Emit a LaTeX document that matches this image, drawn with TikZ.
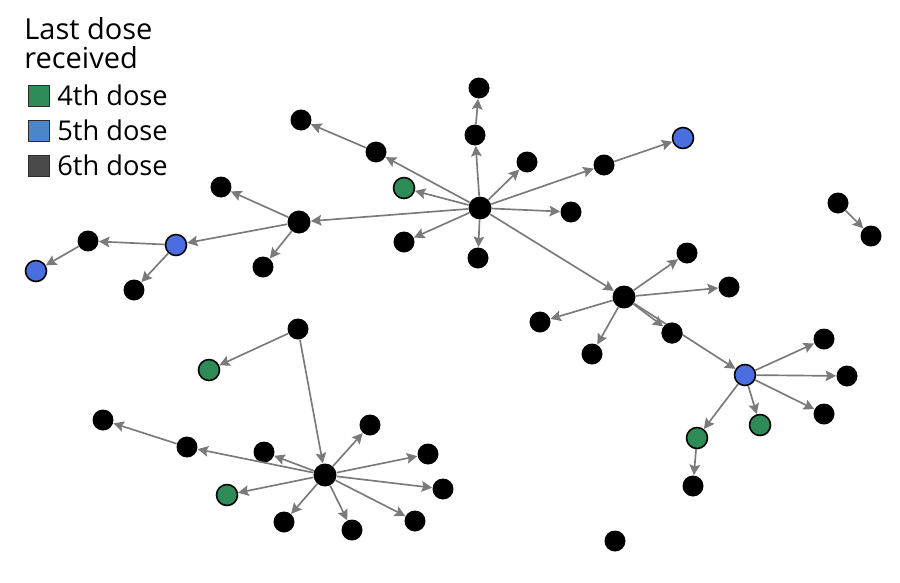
\documentclass[tikz,border=0pt]{standalone}
\usepackage{fontspec}
\setmainfont{Open Sans}
\usetikzlibrary{arrows.meta}
\definecolor{ngreen}{HTML}{2E8B57}
\definecolor{nblue}{HTML}{4A6EE0}
\definecolor{lblue}{HTML}{4A86C8}
\definecolor{ldark}{HTML}{4A4A4A}
\definecolor{edgegray}{HTML}{7A7A7A}
\tikzset{
  nd/.style={circle, fill=black, minimum size=0.42cm, inner sep=0pt},
  hub/.style={circle, fill=black, minimum size=0.46cm, inner sep=0pt},
  gn/.style={circle, fill=ngreen, draw=black, line width=0.9pt, minimum size=0.42cm, inner sep=0pt},
  bn/.style={circle, fill=nblue, draw=black, line width=0.9pt, minimum size=0.42cm, inner sep=0pt},
  ed/.style={draw=edgegray, line width=0.95pt, -{Stealth[length=6pt, width=6pt, inset=1pt]}},
  legsq/.style={draw=ldark!60!black, line width=0.5pt, minimum size=0.43cm, inner sep=0pt},
  legtx/.style={anchor=base west, inner sep=0pt, font=\fontsize{15.5}{18}\selectfont},
  titletx/.style={anchor=base west, inner sep=0pt, font=\fontsize{16.5}{19}\selectfont}
}
\begin{document}
\begin{tikzpicture}[x=0.02cm, y=-0.02cm]
\useasboundingbox (0,0) rectangle (900,582);
% legend
\node[titletx] (title1) at (24,39) {Last dose};
\node[titletx] (title2) at (24,68) {received};
\node[legsq, fill=ngreen] (lg) at (39,96) {};
\node[legsq, fill=lblue] (lb) at (39,131) {};
\node[legsq, fill=ldark] (ld) at (39,166) {};
\node[legtx] (tg) at (57,105) {4th dose};
\node[legtx] (tb) at (57,140) {5th dose};
\node[legtx] (td) at (57,175) {6th dose};

% nodes - top cluster
\node[hub] (h1) at (480,208) {};
\node[nd] (t1) at (475,135) {};
\node[nd] (t2) at (479,88) {};
\node[nd] (t3) at (527,162) {};
\node[nd] (t4) at (604,165) {};
\node[bn] (t5) at (683,138) {};
\node[nd] (t6) at (571,212) {};
\node[nd] (t7) at (478,258) {};
\node[nd] (t8) at (404,242) {};
\node[gn] (t9) at (404,188) {};
\node[nd] (t10) at (376,152) {};
\node[nd] (t11) at (301,120) {};
% hub2
\node[hub] (h2) at (299,222) {};
\node[nd] (a1) at (221,187) {};
\node[nd] (a2) at (263,267) {};
\node[bn] (a3) at (176,245) {};
\node[nd] (a4) at (88,241) {};
\node[bn] (a5) at (36,271) {};
\node[nd] (a6) at (134,290) {};
% hub3
\node[hub] (h3) at (624,297) {};
\node[nd] (b1) at (687,253) {};
\node[nd] (b2) at (729,287) {};
\node[nd] (b3) at (540,322) {};
\node[nd] (b4) at (592,354) {};
\node[nd] (b5) at (672,333) {};
\node[bn] (b6) at (745,375) {};
\node[nd] (b7) at (824,339) {};
\node[nd] (b8) at (847,376) {};
\node[nd] (b9) at (824,414) {};
\node[gn] (b10) at (760,425) {};
\node[gn] (b11) at (697,438) {};
\node[nd] (b12) at (693,486) {};
% pair and single
\node[nd] (p1) at (838,203) {};
\node[nd] (p2) at (871,236) {};
\node[nd] (s1) at (615,541) {};
% hub4 cluster
\node[nd] (c0) at (298,329) {};
\node[gn] (c1) at (209,370) {};
\node[hub] (h4) at (325,475) {};
\node[nd] (c2) at (187,447) {};
\node[nd] (c3) at (103,420) {};
\node[nd] (c4) at (264,452) {};
\node[nd] (c5) at (370,425) {};
\node[nd] (c6) at (428,454) {};
\node[nd] (c7) at (443,489) {};
\node[nd] (c8) at (415,521) {};
\node[nd] (c9) at (352,530) {};
\node[nd] (c10) at (284,522) {};
\node[gn] (c11) at (227,495) {};

% edges
\foreach \a/\b in {h1/t1, t1/t2, h1/t3, h1/t4, t4/t5, h1/t6, h1/t7, h1/t8, h1/t9, h1/t10, t10/t11, h1/h2, h1/h3,
  h2/a1, h2/a2, h2/a3, a3/a4, a4/a5, a3/a6,
  h3/b1, h3/b2, h3/b3, h3/b4, h3/b5, h3/b6, b6/b7, b6/b8, b6/b9, b6/b10, b6/b11, b11/b12,
  p1/p2, c0/c1, c0/h4, h4/c2, c2/c3, h4/c4, h4/c5, h4/c6, h4/c7, h4/c8, h4/c9, h4/c10, h4/c11}
  \path[ed] (\a) -- (\b);
% redraw the node that lies on the h3-b6 line
\node[nd] (b5top) at (b5) {};
\end{tikzpicture}
\end{document}
